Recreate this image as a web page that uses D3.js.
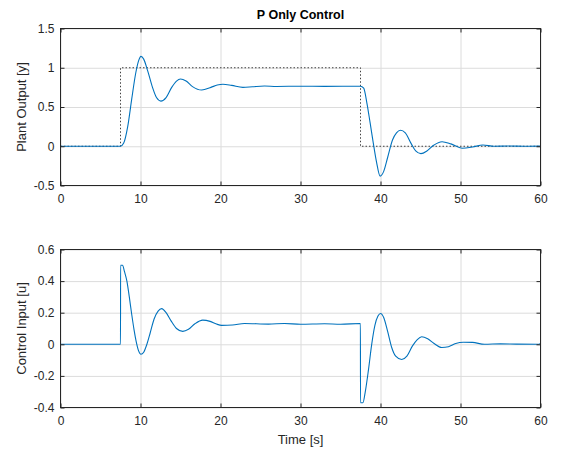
<!DOCTYPE html>
<html>
<head>
<meta charset="utf-8">
<script src="https://cdn.jsdelivr.net/npm/d3@7"></script>
<style>
  body { margin: 0; background: #fff; }
  svg { font-family: "Liberation Sans", Arial, Helvetica, sans-serif; }
  .grid line { stroke: #dcdcdc; stroke-width: 1; }
  .grid path { display: none; }
  .ax path, .ax line { stroke: #262626; stroke-width: 1; }
  .ax text { fill: #262626; font-size: 12px; }
</style>
</head>
<body>
<svg id="chart" width="566" height="454"></svg>
<script>
// ---------- data ----------
var xTicks = [0, 10, 20, 30, 40, 50, 60];
var yTicksTop = [-0.5, 0, 0.5, 1, 1.5];
var yTicksBtm = [-0.4, -0.2, 0, 0.2, 0.4, 0.6];

// reference (setpoint) step
var refT = [0, 7.5, 7.5, 37.5, 37.5, 60];
var refY = [0, 0, 1, 1, 0, 0];

// plant output y(t)
var outT = [0, 7.5, 7.9, 8.4, 8.9, 9.4, 9.8, 10.05, 10.4, 10.9, 11.5, 12.0, 12.55, 13.2, 13.9, 14.5, 15.0, 15.7, 16.5, 17.65,
            18.8, 19.6, 20.3, 21.4, 22.8, 24.0, 25.5, 27, 30, 33, 37.5, 37.9, 38.3, 38.7, 39.1, 39.5, 39.95, 40.4, 40.9, 41.5,
            42.0, 42.5, 43.1, 43.8, 44.4, 45.05, 45.8, 46.6, 47.7, 48.8, 50.2, 51.5, 52.8, 54.2, 56, 58, 60];
var outY = [0, 0, 0.04, 0.25, 0.6, 0.93, 1.10, 1.145, 1.11, 0.96, 0.75, 0.62, 0.575, 0.62, 0.75, 0.83, 0.857, 0.83, 0.76, 0.716,
            0.75, 0.78, 0.79, 0.775, 0.75, 0.758, 0.768, 0.762, 0.765, 0.763, 0.765, 0.74, 0.55, 0.30, 0.04, -0.20, -0.38, -0.32, -0.14, 0.08,
            0.17, 0.203, 0.17, 0.04, -0.06, -0.094, -0.06, 0.01, 0.058, 0.03, -0.025, -0.01, 0.016, 0.0, 0.004, 0.0, 0.002];

// control input u(t)
var uT = [0, 7.5, 7.51, 7.75, 8.0, 8.3, 8.6, 8.9, 9.2, 9.45, 9.75, 10.06, 10.4, 10.8, 11.2, 11.7, 12.2, 12.65, 13.2, 13.8,
          14.5, 15.28, 16.0, 16.8, 17.78, 18.7, 19.5, 20.15, 21.5, 23, 26, 28, 30, 33, 35, 37.49, 37.5, 37.8, 38.1, 38.5,
          38.9, 39.3, 39.7, 40.0, 40.4, 40.9, 41.4, 41.9, 42.65, 43.3, 44.0, 44.6, 45.15, 45.9, 46.7, 47.65, 48.5, 49.4, 50.35, 51.5,
          53, 55, 57, 59.7, 60];
var uY = [0, 0, 0.50, 0.50, 0.46, 0.40, 0.30, 0.19, 0.09, 0.02, -0.04, -0.063, -0.05, 0.0, 0.07, 0.16, 0.21, 0.226, 0.20, 0.15,
          0.10, 0.082, 0.095, 0.13, 0.153, 0.145, 0.128, 0.12, 0.122, 0.132, 0.128, 0.132, 0.127, 0.13, 0.127, 0.132, -0.37, -0.37, -0.30, -0.16,
          0.0, 0.12, 0.18, 0.195, 0.17, 0.08, -0.02, -0.075, -0.096, -0.075, -0.01, 0.03, 0.048, 0.035, 0.005, -0.02, -0.015, 0.005, 0.013, 0.012,
          0.0, 0.003, 0.001, 0.0, 0.006];

// ---------- layout ----------
var svg = d3.select("#chart");
var x = d3.scaleLinear().domain([0, 60]).range([60.5, 540.5]);
var yTop = d3.scaleLinear().domain([-0.5, 1.5]).range([185.5, 28.5]);
var yBtm = d3.scaleLinear().domain([-0.4, 0.6]).range([407.5, 249.5]);
var blue = "#0072bd";

function drawPanel(y, yTicks) {
  var g = svg.append("g");
  var top = y.range()[1], bot = y.range()[0];
  var left = x.range()[0], right = x.range()[1];

  // grid
  g.append("g").attr("class", "grid").attr("transform", "translate(0," + bot + ")")
    .call(d3.axisBottom(x).tickValues(xTicks).tickSize(-(bot - top)).tickFormat(""));
  g.append("g").attr("class", "grid").attr("transform", "translate(" + left + ",0)")
    .call(d3.axisLeft(y).tickValues(yTicks).tickSize(-(right - left)).tickFormat(""));

  var clip = "clip" + Math.round(top);
  svg.append("clipPath").attr("id", clip).append("rect")
    .attr("x", left).attr("y", top).attr("width", right - left).attr("height", bot - top);
  var plot = g.append("g").attr("clip-path", "url(#" + clip + ")");
  return {g: g, plot: plot, top: top, bot: bot, left: left, right: right, y: y, yTicks: yTicks};
}

// plain hyphen minus like the original figure
var fmt = function(d) { return String(d); };

function drawAxes(p) {
  var g = p.g;
  g.append("g").attr("class", "ax").attr("transform", "translate(0," + p.bot + ")")
    .call(d3.axisBottom(x).tickValues(xTicks).tickSize(-4).tickSizeOuter(0).tickPadding(9).tickFormat(fmt));
  g.append("g").attr("class", "ax").attr("transform", "translate(0," + p.top + ")")
    .call(d3.axisTop(x).tickValues(xTicks).tickSize(-4).tickSizeOuter(0).tickFormat(""));
  g.append("g").attr("class", "ax").attr("transform", "translate(" + p.left + ",0)")
    .call(d3.axisLeft(p.y).tickValues(p.yTicks).tickSize(-4).tickSizeOuter(0).tickPadding(6).tickFormat(fmt));
  g.append("g").attr("class", "ax").attr("transform", "translate(" + p.right + ",0)")
    .call(d3.axisRight(p.y).tickValues(p.yTicks).tickSize(-4).tickSizeOuter(0).tickFormat(""));
  g.selectAll(".ax .domain").remove();
  g.append("rect").attr("x", p.left).attr("y", p.top)
    .attr("width", p.right - p.left).attr("height", p.bot - p.top)
    .attr("fill", "none").attr("stroke", "#262626").attr("stroke-width", 1);
}

// ---------- top panel ----------
var p1 = drawPanel(yTop, yTicksTop);
var refLine = d3.line().x(function(d) { return x(d[0]); }).y(function(d) { return yTop(d[1]); });
p1.plot.append("path").datum(d3.zip(refT, refY)).attr("d", refLine)
  .attr("fill", "none").attr("stroke", "#404040").attr("stroke-width", 1).attr("stroke-dasharray", "1.5,2");
var outLine = d3.line().curve(d3.curveMonotoneX)
  .x(function(d) { return x(d[0]); }).y(function(d) { return yTop(d[1]); });
p1.plot.append("path").datum(d3.zip(outT, outY)).attr("d", outLine)
  .attr("fill", "none").attr("stroke", blue).attr("stroke-width", 1.1);
drawAxes(p1);

// ---------- bottom panel ----------
var p2 = drawPanel(yBtm, yTicksBtm);
var uLine = d3.line().curve(d3.curveMonotoneX)
  .x(function(d) { return x(d[0]); }).y(function(d) { return yBtm(d[1]); });
p2.plot.append("path").datum(d3.zip(uT, uY)).attr("d", uLine)
  .attr("fill", "none").attr("stroke", blue).attr("stroke-width", 1.1);
drawAxes(p2);

// ---------- labels ----------
svg.append("text").attr("x", 300.5).attr("y", 19).attr("text-anchor", "middle")
  .attr("font-size", "12.5px").attr("font-weight", "bold").attr("fill", "#000")
  .text("P Only Control");
svg.append("text").attr("transform", "translate(26," + (yTop(0.5)) + ") rotate(-90)")
  .attr("text-anchor", "middle").attr("font-size", "13px").attr("fill", "#262626")
  .text("Plant Output [y]");
svg.append("text").attr("transform", "translate(26," + (yBtm(0.1)) + ") rotate(-90)")
  .attr("text-anchor", "middle").attr("font-size", "13px").attr("fill", "#262626")
  .text("Control Input [u]");
svg.append("text").attr("x", 300.5).attr("y", 444).attr("text-anchor", "middle")
  .attr("font-size", "13px").attr("fill", "#262626")
  .text("Time [s]");
</script>
</body>
</html>
